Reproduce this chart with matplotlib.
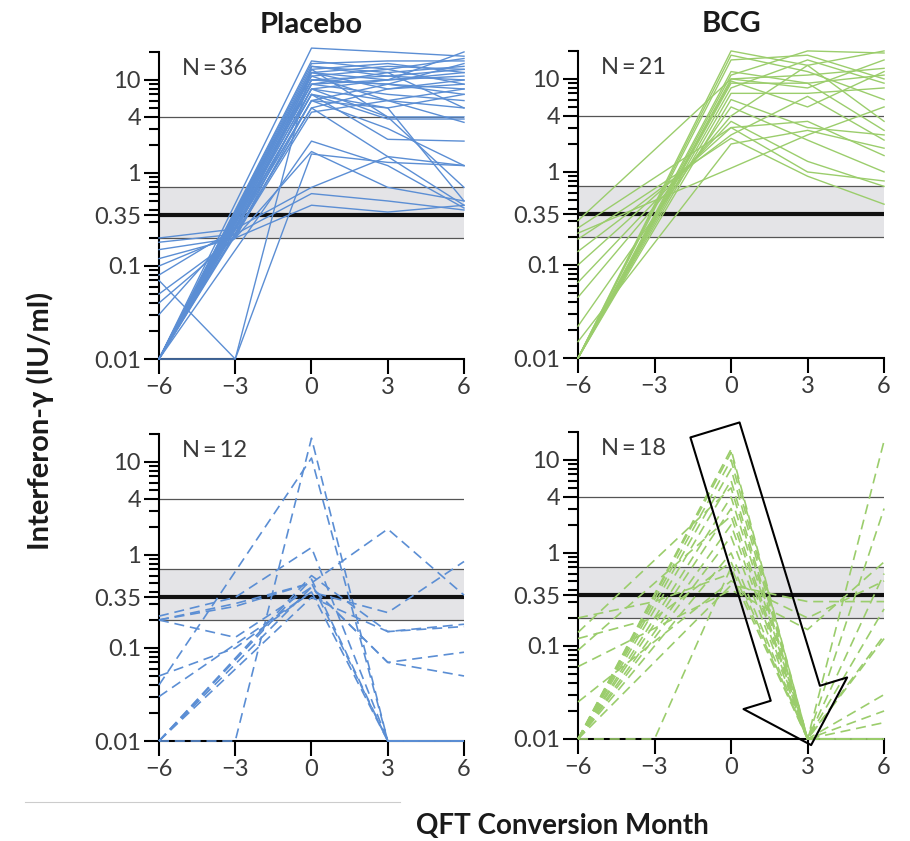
import numpy as np
import matplotlib
matplotlib.use('Agg')
import matplotlib.pyplot as plt
from matplotlib.lines import Line2D

plt.rcParams['font.family'] = ['Lato', 'DejaVu Sans']

nan = np.nan
months = [-6, -3, 0, 3, 6]

# Placebo, sustained conversion (solid lines), N=36
placebo_sustained = [
    [0.01, nan, 22, 20, 18], [0.01, nan, 15, 16, 16], [0.01, nan, 14, 12, 14],
    [0.01, nan, 13, 15, 12], [0.01, nan, 12, 10, 11], [0.01, nan, 12, 8, 10],
    [0.01, nan, 11, 13, 9], [0.01, nan, 11, 6, 8], [0.01, nan, 10, 11, 13],
    [0.01, nan, 10, 9, 7], [0.01, nan, 9, 7, 6], [0.01, nan, 9, 12, 5],
    [0.01, nan, 8, 4, 4], [0.01, nan, 8, 10, 12], [0.01, nan, 7, 2.3, 2.2],
    [0.01, nan, 7, 5, 0.5], [0.01, nan, 6, 9, 15], [0.01, nan, 6, 3, 1.2],
    [0.01, nan, 5, 8, 9], [0.01, nan, 5, 1.5, 0.45], [0.01, nan, 4.5, 6, 3.5],
    [0.01, nan, 13, 4, 0.7], [0.01, nan, 2.2, 1.2, 0.42], [0.01, 0.01, 14, 11, 10],
    [0.07, 0.01, 1.6, 1.3, 1.2], [0.2, 0.25, 10, 9, 8], [0.18, 0.22, 12, 14, 13],
    [0.15, 0.2, 8, 6, 5], [0.12, 0.2, 0.45, 0.38, 0.45], [0.1, 0.22, 0.6, 0.5, 0.4],
    [0.08, 0.25, 0.7, 1.5, 1.2], [0.05, 0.2, 6, 5, 7], [0.04, 0.2, 1.7, 0.7, 0.5],
    [0.03, 0.25, 7, 3.8, 3.8], [0.01, nan, 16, 13, 17], [0.01, nan, 9, 10, 20],
]

# BCG, sustained conversion (solid lines), N=21
bcg_sustained = [
    [0.01, nan, 20, 14, 20], [0.01, nan, 18, 12, 6], [0.01, nan, 11, 20, 19],
    [0.01, nan, 10, 8, 16], [0.01, nan, 9, 9, 11], [0.01, nan, 8, 16, 9],
    [0.01, nan, 7, 7, 8], [0.01, nan, 6, 3, 2.5], [0.022, nan, 5, 2.2, 1.0],
    [0.045, nan, 4, 14, 3.5], [0.065, nan, 3.5, 1.3, 0.7], [0.1, nan, 3, 3.5, 1.5],
    [0.14, nan, 2.5, 6.5, 2.2], [0.19, nan, 2.3, 0.9, 0.45], [0.22, nan, 1.1, 2.5, 5],
    [0.3, nan, 10, 11, 13], [0.25, nan, 3, 1.0, 0.8], [0.01, nan, 12, 9, 2.8],
    [0.01, nan, 16, 18, 10], [0.015, nan, 2.0, 2.8, 1.8], [0.01, nan, 9.5, 5, 12],
]

# Placebo, reversion (dashed lines), N=12
placebo_revert = [
    [0.01, 0.01, 18, 0.01, 0.01], [0.04, nan, 11, 0.01, 0.01],
    [0.01, nan, 0.55, 0.01, 0.01], [0.01, nan, 0.45, 0.07, 0.09],
    [0.01, nan, 0.6, 0.15, 0.17], [0.2, 0.3, 0.5, 0.01, 0.01],
    [0.2, 0.13, 0.45, 0.07, 0.05], [0.2, 0.28, 0.5, 1.9, 0.37],
    [0.03, nan, 0.4, 0.24, 0.85], [0.22, 0.35, 1.2, 0.01, 0.01],
    [0.01, nan, 0.35, 0.15, 0.18], [0.05, 0.1, 0.4, 0.01, 0.01],
]

# BCG, reversion (dashed lines), N=18
bcg_revert = [
    [0.01, nan, 13, 0.01, 0.01], [0.01, nan, 10, 0.01, 0.02],
    [0.01, nan, 8, 0.01, 16], [0.01, nan, 6, 0.01, 0.01],
    [0.01, nan, 4, 0.01, 0.03], [0.01, nan, 3, 0.01, 3.0],
    [0.01, nan, 2, 0.01, 0.01], [0.01, nan, 1.5, 0.01, 0.25],
    [0.01, nan, 1, 0.01, 0.01], [0.01, 0.01, 0.7, 0.01, 0.6],
    [0.14, nan, 5, 0.01, 0.015], [0.09, nan, 2.5, 0.01, 0.13],
    [0.025, nan, 0.5, 0.2, 0.5], [0.12, 0.2, 0.8, 0.01, 0.01],
    [0.01, nan, 0.45, 0.3, 0.3], [0.2, 0.3, 0.6, 0.01, 0.12],
    [0.01, nan, 12, 0.01, 0.01], [0.06, nan, 0.4, 0.15, 0.8],
]

blue = '#5b8ed4'
green = '#9bcd6c'
ytick_vals = [0.01, 0.1, 0.35, 1, 4, 10]
ytick_labels = ['0.01', '0.1', '0.35', '1', '4', '10']
xtick_labels = ['\u22126', '\u22123', '0', '3', '6']
minor_vals = [m * 10.0 ** e for e in (-2, -1, 0) for m in range(2, 10)] + [20]
minor_vals = [v for v in minor_vals if abs(v - 4) > 1e-9]

fig = plt.figure(figsize=(9.1, 8.41), dpi=100)
h = 0.3739
panels = [
    ([0.1747, 0.5731, 0.3352, h], placebo_sustained, blue, False, 'N=36', 'Placebo'),
    ([0.6352, 0.5743, 0.3363, h], bcg_sustained, green, False, 'N=21', 'BCG'),
    ([0.1747, 0.1189, 0.3352, h], placebo_revert, blue, True, 'N=12', None),
    ([0.6352, 0.1213, 0.3363, h], bcg_revert, green, True, 'N=18', None),
]

axes = []
for rect, series, col, dashed, ntext, title in panels:
    ax = fig.add_axes(rect)
    axes.append(ax)
    ax.set_yscale('log')
    ax.set_xlim(-6, 6)
    ax.set_ylim(0.01, 24)

    ax.axhspan(0.2, 0.7, color='#e4e4e7', zorder=0.5, lw=0)
    for yv in (0.2, 0.7, 4):
        ax.axhline(yv, color='#555555', lw=0.9, zorder=1)
    ax.axhline(0.35, color='#111111', lw=3.0, zorder=1.2)

    for s in series:
        s = np.array(s, dtype=float)
        ok = ~np.isnan(s)
        x = np.array(months)[ok]
        if dashed:
            ax.plot(x, s[ok], color=col, lw=1.2, dashes=(6, 3.5), clip_on=False, zorder=3)
        else:
            ax.plot(x, s[ok], color=col, lw=1.0, clip_on=False, zorder=3)

    for sp in ('top', 'right'):
        ax.spines[sp].set_visible(False)
    ax.spines['left'].set_bounds(0.01, 20)
    ax.spines['left'].set_linewidth(1.5)
    ax.spines['bottom'].set_linewidth(1.5)

    ax.set_yticks(ytick_vals)
    ax.set_yticklabels(ytick_labels)
    ax.set_yticks(minor_vals, minor=True)
    ax.yaxis.set_minor_formatter(matplotlib.ticker.NullFormatter())
    ax.set_xticks(months)
    ax.set_xticklabels(xtick_labels)
    ax.tick_params(axis='both', which='major', length=11, width=1.5,
                   labelsize=17, labelcolor='#3a3a3a', pad=2)
    ax.tick_params(axis='y', which='minor', length=7, width=1.5)

    ax.text(0.075, 0.925, ntext.replace('=', '\u2009=\u2009'), transform=ax.transAxes,
            fontsize=17, color='#3a3a3a', va='center', ha='left')
    if title:
        ax.set_title(title, fontsize=21, fontweight='bold', color='#1a1a1a', pad=8)

# hollow arrow on the BCG reversion panel
ann = axes[3].annotate('', xy=(3.14, 0.0086), xytext=(-0.63, 21),
                       annotation_clip=False,
                       arrowprops=dict(arrowstyle='simple,head_length=39,head_width=78,tail_width=37',
                                       mutation_scale=1, fc='none', ec='black', lw=1.5,
                                       shrinkA=0, shrinkB=0))
ann.arrow_patch.set_clip_on(False)
ann.arrow_patch.set_zorder(5)

fig.text(0.044, 0.50, 'Interferon-\u03b3 (IU/ml)', rotation=90, fontsize=21,
         fontweight='bold', color='#1a1a1a', ha='center', va='center')
fig.text(0.618, 0.018, 'QFT Conversion Month', fontsize=20, fontweight='bold',
         color='#1a1a1a', ha='center', va='center')
fig.add_artist(Line2D([0.027, 0.44], [0.046, 0.046], color='#cccccc', lw=0.8))

fig.savefig('out.png', dpi=100)
